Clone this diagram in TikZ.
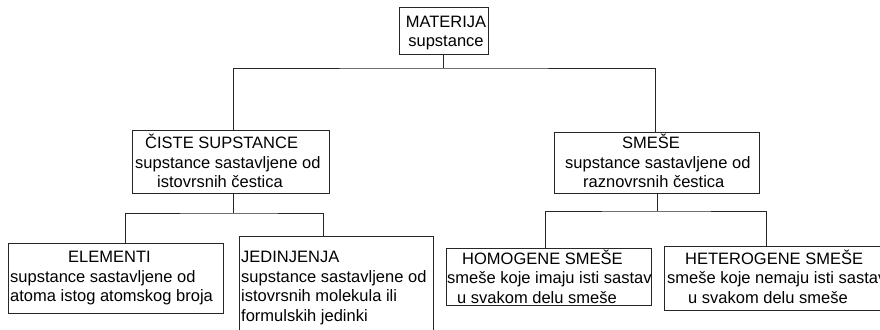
\documentclass[tikz,border=0pt]{standalone}
\usepackage{fontspec}
\setmainfont{Liberation Sans}
\begin{document}
\begin{tikzpicture}[x=1pt,y=-1pt,
  box/.style={draw=black!85, line width=1pt, inner sep=0pt, fill=none},
  txt/.style={inner sep=0pt, font=\fontsize{16.5}{19.5}\selectfont},
  link/.style={draw=black!85, line width=1pt}]
\useasboundingbox[fill=white] (0,0) rectangle (880,329);
% boxes
\node[box, minimum width=89pt, minimum height=47pt] (mat) at (443.5,31.5) {};
\node[box, minimum width=197pt, minimum height=63pt] (cis) at (230.5,161.5) {};
\node[box, minimum width=205pt, minimum height=61pt] (sme) at (656.5,162.5) {};
\node[box, minimum width=215pt, minimum height=70pt] (ele) at (115.5,278) {};
\node[box, minimum width=194pt, minimum height=109pt] (jed) at (336,290.5) {};
\node[box, minimum width=205pt, minimum height=57pt] (hom) at (548.5,276.5) {};
\node[box, minimum width=231pt, minimum height=64pt] (het) at (779.5,278) {};
% texts
\node[txt, align=center, anchor=north] (matT) at (446,13.5) {\strut MATERIJA\\supstance};
\node[txt, align=left, anchor=north west] (cisT) at (135,134) {\strut\hspace{10pt}ČISTE SUPSTANCE\\supstance sastavljene od\\\hspace{22pt}istovrsnih čestica};
\node[txt, align=left, anchor=north west] (smeT) at (565,134) {\strut\hspace{57pt}SMEŠE\\supstance sastavljene od\\\hspace{18pt}raznovrsnih čestica};
\node[txt, align=left, anchor=north west] (eleT) at (10,249) {\strut\hspace{58pt}ELEMENTI\\supstance sastavljene od\\atoma istog atomskog broja};
\node[txt, align=left, anchor=north west] (jedT) at (241,249) {\strut JEDINJENJA\\supstance sastavljene od\\istovrsnih molekula ili\\formulskih jedinki};
\node[txt, align=left, anchor=north west] (homT) at (447,249.5) {\strut\hspace{15pt}HOMOGENE SMEŠE\\smeše koje imaju isti sastav\\\hspace{10pt}u svakom delu smeše};
\node[txt, align=left, anchor=north west] (hetT) at (667,249.5) {\strut\hspace{18pt}HETEROGENE SMEŠE\\smeše koje nemaju isti sastav\\\hspace{21pt}u svakom delu smeše};
% junctions
\coordinate (j1) at (443.5,68);
\coordinate (j2) at (233,213);
\coordinate (j3) at (657,211);
% connectors
\draw[link] (mat.south) -- (j1);
\draw[link] ([xshift=2.5pt]cis.north) |- (j1) -| ([xshift=-1.5pt]sme.north);
\draw[link] ([xshift=2.5pt]cis.south) -- (j2);
\draw[link] ([xshift=9.5pt]ele.north) |- (j2) -| ([xshift=-13pt]jed.north);
\draw[link] ([xshift=0.5pt]sme.south) -- (j3);
\draw[link] ([xshift=-3.5pt]hom.north) |- (j3) -| ([xshift=-13.5pt]het.north);
\end{tikzpicture}
\end{document}
